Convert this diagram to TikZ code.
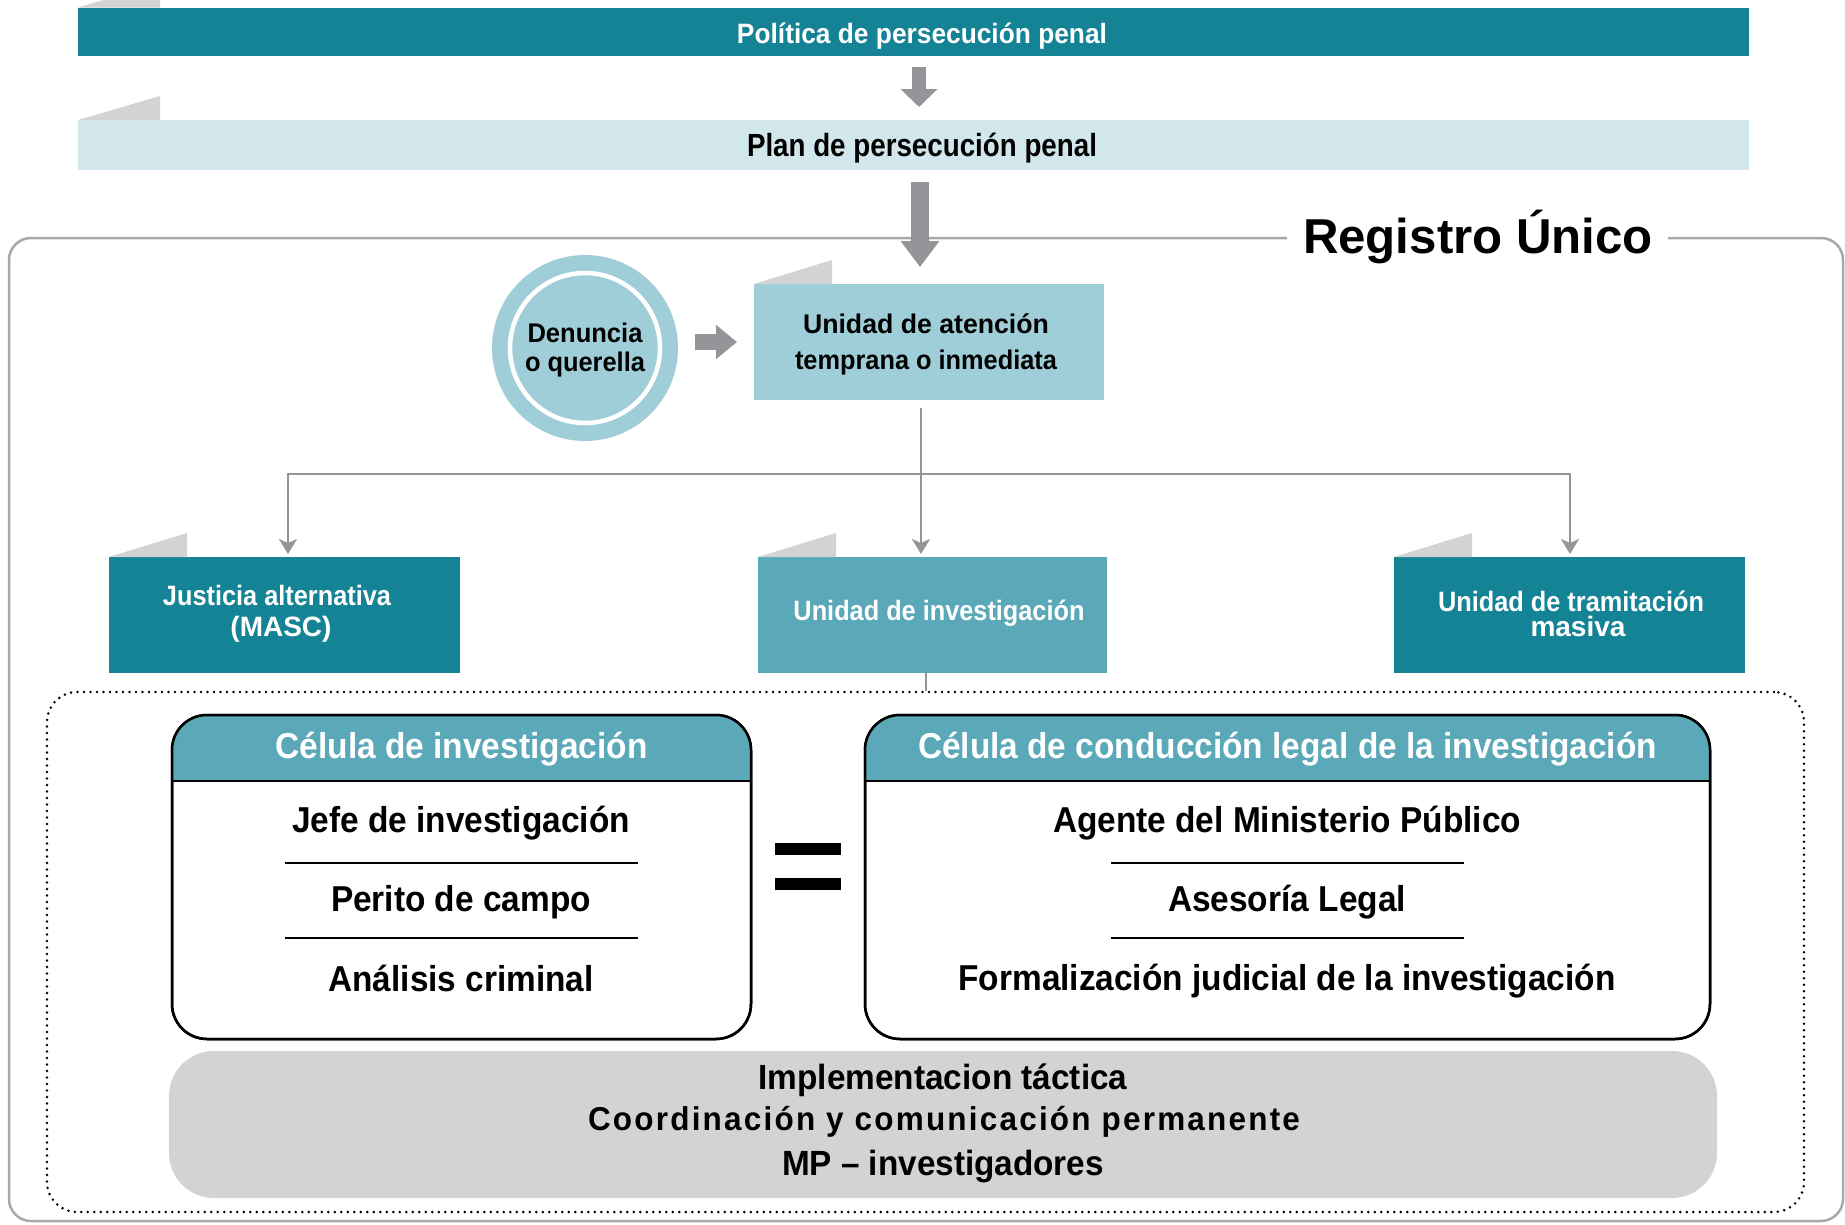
\documentclass[tikz,border=0pt]{standalone}
\usepackage{fontspec}
\setmainfont{Liberation Sans}
\newfontfamily\spacedfont{Liberation Sans}[LetterSpace=7]
\usepackage{graphicx}
\usetikzlibrary{arrows.meta,calc}
\definecolor{cDark}{HTML}{158396}
\definecolor{cPlan}{HTML}{D1E7EB}
\definecolor{cLight}{HTML}{A0CED8}
\definecolor{cMid}{HTML}{5AA8B8}
\definecolor{cTab}{HTML}{D1D3D4}
\definecolor{cArrow}{HTML}{939598}
\definecolor{cFrame}{HTML}{A7A9AC}
\definecolor{cGray}{HTML}{D1D3D4}
\newcommand\fw[3]{\resizebox{#1pt}{\height}{\fontsize{#2}{#2}\selectfont\bfseries #3}}
\newcommand\fws[3]{\resizebox{#1pt}{\height}{\spacedfont\fontsize{#2}{#2}\selectfont\bfseries #3}}
\tikzset{
  box/.style={inner sep=0pt, outer sep=0pt, align=center},
  tabshape/.style={fill=cTab},
  blockA/.style={draw=cArrow, line width=14pt, -{Triangle[length=18pt,width=36pt]}},
  blockB/.style={draw=cArrow, line width=18pt, -{Triangle[length=26pt,width=37pt]}},
  blockC/.style={draw=cArrow, line width=16pt, -{Triangle[length=21pt,width=33pt]}},
  conn/.style={draw=cArrow, line width=2.5pt},
  connarrow/.style={conn, -{Stealth[length=15pt,width=18pt,inset=4pt]}},
  celbox/.style={draw=black, line width=2.5pt, rounded corners=35pt, fill=white, minimum height=324pt, inner sep=0pt, outer sep=0pt},
  septext/.style={inner sep=0pt},
  sepline/.style={draw=black, line width=2.5pt},
}
\begin{document}
\begin{tikzpicture}[x=1pt,y=-1pt]
\clip (0,0) rectangle (1845,1224);
\fill[white] (0,0) rectangle (1845,1224);

% Registro Unico frame
\node[inner sep=0pt, anchor=base] (title) at (1478,253) {\fw{350}{49}{Registro Único}};
\coordinate (frtop) at (0,238);
\draw[cFrame, line width=2.5pt, rounded corners=22pt]
  ($(title.west |- frtop)+(-16,0)$) -- (9,238) -- (9,1221) -- (1843,1221) -- (1843,238) -- ($(title.east |- frtop)+(15,0)$);

% top bars
\node[box, fill=cDark, minimum width=1671pt, minimum height=48pt] (politica) at (913.5,31.5) {};
\node[septext, text=white] (politicat) at (922,36) {\fw{370}{28}{Política de persecución penal}};
\fill[tabshape] (politica.north west) -- ++(82,-24) -- ++(0,24) -- cycle;
\node[box, fill=cPlan, minimum width=1671pt, minimum height=50pt] (plan) at (913.5,145) {};
\node[septext] (plant) at (922,148) {\fw{350}{32}{Plan de persecución penal}};
\fill[tabshape] (plan.north west) -- ++(82,-24) -- ++(0,24) -- cycle;

% circle
\node[circle, fill=cLight, minimum size=186pt, inner sep=0pt] (circ) at (585,348) {};
\draw[white, line width=4.5pt] (circ.center) circle (75);
\node[box, font=\fontsize{27}{29}\selectfont] (circtext) at (585,350) {\fw{115}{27}{Denuncia}\\\fw{120}{27}{o querella}};

% atencion
\node[box, fill=cLight, minimum width=350pt, minimum height=116pt] (atencion) at (929,342) {};
\node[box, font=\fontsize{27}{36}\selectfont] (atenciont) at (926,344.5) {\fw{246}{27}{Unidad de atención}\\\fw{262}{27}{temprana o inmediata}};
\fill[tabshape] (atencion.north west) -- ++(78,-24) -- ++(0,24) -- cycle;

% block arrows
\coordinate (ax) at (919,0);
\draw[blockA, shorten <=11.5pt, shorten >=13pt] (politica.south -| ax) -- (plan.north -| ax);
\coordinate (bx) at (920,0);
\draw[blockB, shorten <=12pt, shorten >=17pt] (plan.south -| bx) -- (atencion.north -| bx);
\draw[blockC, shorten <=17pt, shorten >=17pt] (circ.east |- atencion.west) -- (atencion.west);

% three units
\node[box, fill=cDark, minimum width=351pt, minimum height=116pt] (justicia) at (284.5,615) {};
\node[box, text=white, font=\fontsize{28}{31}\selectfont] (justiciat) at (277,614) {\fw{228}{28}{Justicia alternativa}\\\hspace*{8pt}\fw{101}{28}{(MASC)}};
\fill[tabshape] (justicia.north west) -- ++(78,-24) -- ++(0,24) -- cycle;
\node[box, fill=cMid, minimum width=349pt, minimum height=116pt] (invest) at (932.5,615) {};
\node[septext, text=white] (investt) at (939,613) {\fw{291}{28}{Unidad de investigación}};
\fill[tabshape] (invest.north west) -- ++(78,-24) -- ++(0,24) -- cycle;
\node[box, fill=cDark, minimum width=351pt, minimum height=116pt] (tramit) at (1569.5,615) {};
\node[box, text=white, font=\fontsize{28}{25}\selectfont] (tramitt) at (1571,614) {\fw{266}{28}{Unidad de tramitación}\\\hspace*{14pt}\fw{95}{28}{masiva}};
\fill[tabshape] (tramit.north west) -- ++(78,-24) -- ++(0,24) -- cycle;

% connectors
\coordinate (jv) at (921,474);
\coordinate (jl) at (288,474);
\coordinate (jr) at (1570,474);
\draw[connarrow, shorten <=8pt, shorten >=3pt] (atencion.south -| jv) -- (invest.north -| jv);
\draw[connarrow, shorten >=3pt] (jv) -- (jl) -- (justicia.north -| jl);
\draw[connarrow, shorten >=3pt] (jv) -- (jr) -- (tramit.north -| jr);

% dotted frame
\node[draw=black, line width=2.8pt, dash pattern=on 0pt off 6.5pt, line cap=round, rounded corners=30pt, minimum width=1757pt, minimum height=520pt, inner sep=0pt] (dframe) at (925.5,952) {};
\coordinate (dx) at (926,0);
\draw[conn] (invest.south -| dx) -- (dframe.north -| dx);

% celula investigacion
\node[celbox, minimum width=579pt] (celA) at (461.5,877) {};
\begin{scope}
\clip[rounded corners=35pt] (celA.north west) rectangle (celA.south east);
\fill[cMid] (celA.north west) rectangle ($(celA.north east)+(0,66)$);
\end{scope}
\draw[sepline] ($(celA.north west)+(0,66)$) -- ($(celA.north east)+(0,66)$);
\draw[black, line width=2.5pt, rounded corners=35pt] (celA.north west) rectangle (celA.south east);
\node[septext, text=white] (celAh) at ($(celA.north)+(0,34.5)$) {\fw{372}{36}{Célula de investigación}};
\node[septext] (a1) at (461,823.5) {\fw{338}{36}{Jefe de investigación}};
\node[septext] (a2) at (461,902.5) {\fw{260}{36}{Perito de campo}};
\node[septext] (a3) at (461,978) {\fw{265}{36}{Análisis criminal}};
\draw[sepline] (285,863) -- (638,863);
\draw[sepline] (285,938) -- (638,938);

% equals
\fill[black] (775,843) rectangle (841,855);
\fill[black] (775,878) rectangle (841,890);

% celula conduccion
\node[celbox, minimum width=845pt] (celB) at (1287.5,877) {};
\begin{scope}
\clip[rounded corners=35pt] (celB.north west) rectangle (celB.south east);
\fill[cMid] (celB.north west) rectangle ($(celB.north east)+(0,66)$);
\end{scope}
\draw[sepline] ($(celB.north west)+(0,66)$) -- ($(celB.north east)+(0,66)$);
\draw[black, line width=2.5pt, rounded corners=35pt] (celB.north west) rectangle (celB.south east);
\node[septext, text=white] (celBh) at ($(celB.north)+(0,34.5)$) {\fw{739}{36}{Célula de conducción legal de la investigación}};
\node[septext] (b1) at (1287,823.5) {\fw{468}{36}{Agente del Ministerio Público}};
\node[septext] (b2) at (1287,902.5) {\fw{238}{36}{Asesoría Legal}};
\node[septext] (b3) at (1287,981) {\fw{657}{36}{Formalización judicial de la investigación}};
\draw[sepline] (1111,863) -- (1464,863);
\draw[sepline] (1111,938) -- (1464,938);

% implementacion
\node[fill=cGray, rounded corners=45pt, minimum width=1548pt, minimum height=147pt, inner sep=0pt] (impl) at (943,1124.5) {};
\node[septext] (i1) at (943,1080.5) {\fw{369}{35}{Implementacion táctica}};
\node[septext] (i2) at (944,1121.5) {\fws{712}{33}{Coordinación y comunicación permanente}};
\node[septext] (i3) at (943,1166.5) {\fw{322}{35}{MP – investigadores}};
\end{tikzpicture}
\end{document}
